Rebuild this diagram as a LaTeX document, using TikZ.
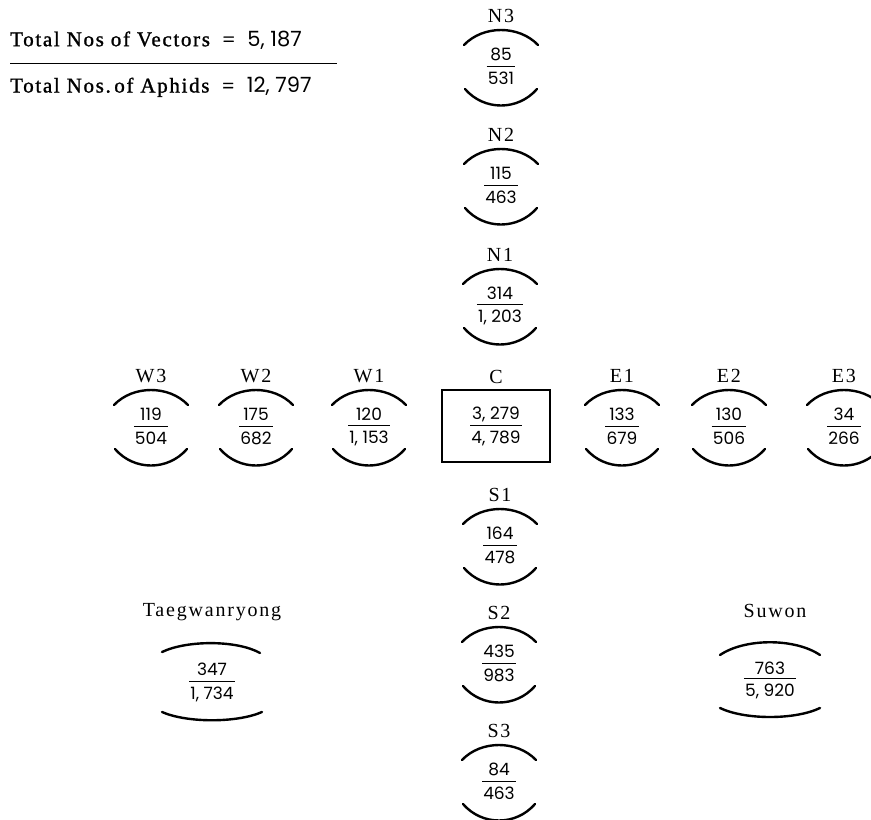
\documentclass[tikz,border=0pt]{standalone}
\usepackage{fontspec}
\setmainfont{Liberation Serif}
\newfontfamily\numfont{Poppins}
\newfontfamily\labfont[LetterSpace=9]{Liberation Serif}
\newfontfamily\hdrfont[LetterSpace=8,FakeBold=1.2]{Liberation Serif}
\usetikzlibrary{calc}
\tikzset{
  lab/.style={font=\labfont\fontsize{20}{22}\selectfont, inner sep=0pt},
  hdr/.style={font=\hdrfont\fontsize{21}{23}\selectfont, inner sep=0pt},
  frac/.style={font=\numfont\fontsize{17}{19}\selectfont, inner sep=0pt},
  arcline/.style={line width=2.4pt, line cap=round},
  bar/.style={line width=0.7pt},
}
\newcommand\site[6]{%
  \coordinate (#1c) at (#2,#3);
  \node[lab] (#1) at (#2,#3-50) {#4};
  \node[frac] (#1n) at (#2,#3-12) {#5};
  \node[frac] (#1d) at (#2,#3+12) {#6};
  \draw[bar] ($(#1d.north west)+(-1,-5)$) -- ($(#1d.north east)+(1,-5)$);
  \draw[arcline] ($(#1c)+(-37,-21)$) .. controls ($(#1c)+(-18,-41)$) and ($(#1c)+(18,-41)$) .. ($(#1c)+(37,-21)$);
  \draw[arcline] ($(#1c)+(-36,23)$) .. controls ($(#1c)+(-17,45)$) and ($(#1c)+(17,45)$) .. ($(#1c)+(36,23)$);
}
\begin{document}
\begin{tikzpicture}[x=1pt,y=-1pt]
\useasboundingbox (0,0) rectangle (871,820);
% header
\node[hdr, anchor=west] (vec) at (10,40) {Total Nos of Vectors \;=\; {\numfont 5, 187}};
\coordinate (r1) at (10,63);
\coordinate (r2) at (337,63);
\draw[line width=0.8pt] (r1) -- (r2);
\node[hdr, anchor=west] (aph) at (10,87) {Total Nos.\,of Aphids \;=\; {\numfont 12, 797}};
% north column
\site{N3}{501}{66}{N3}{85}{531}
\site{N2}{501}{185}{N2}{115}{463}
\site{N1}{500}{305}{N1}{314}{1, 203}
% row
\site{W3}{151}{426}{W3}{119}{504}
\site{W2}{256}{426}{W2}{175}{682}
\site{W1}{369}{426}{W1}{120}{1, 153}
\site{E1}{622}{426}{E1}{133}{679}
\site{E2}{729}{426}{E2}{130}{506}
\site{E3}{844}{426}{E3}{34}{266}
% centre
\node[draw, line width=2.4pt, minimum width=108pt, minimum height=72pt] (Cbox) at (496,426) {};
\node[lab] (C) at (496,377) {C};
\node[frac] (Cn) at (496,414) {3, 279};
\node[frac] (Cd) at (496,438) {4, 789};
\draw[bar] ($(Cd.north west)+(-1,-5)$) -- ($(Cd.north east)+(1,-5)$);
% south column
\site{S1}{500}{545}{S1}{164}{478}
\site{S2}{499}{663}{S2}{435}{983}
\site{S3}{499}{781}{S3}{84}{463}
% Taegwanryong
\coordinate (Tc) at (212,682);
\node[lab] (T) at (212,612) {Taegwanryong};
\node[frac] (Tn) at (212,669) {347};
\node[frac] (Td) at (212,694) {1, 734};
\draw[bar] ($(Td.north west)+(-1,-5)$) -- ($(Td.north east)+(1,-5)$);
\draw[arcline] ($(Tc)+(-50,-30)$) .. controls ($(Tc)+(-25,-42)$) and ($(Tc)+(25,-42)$) .. ($(Tc)+(48,-29)$);
\draw[arcline] ($(Tc)+(-50,30)$) .. controls ($(Tc)+(-25,41)$) and ($(Tc)+(25,41)$) .. ($(Tc)+(50,30)$);
% Suwon
\coordinate (Uc) at (770,680);
\node[lab] (U) at (775,611) {Suwon};
\node[frac] (Un) at (770,668) {763};
\node[frac] (Ud) at (770,691) {5, 920};
\draw[bar] ($(Ud.north west)+(-1,-5)$) -- ($(Ud.north east)+(1,-5)$);
\draw[arcline] ($(Uc)+(-50,-25)$) .. controls ($(Uc)+(-25,-42)$) and ($(Uc)+(25,-42)$) .. ($(Uc)+(50,-25)$);
\draw[arcline] ($(Uc)+(-50,28)$) .. controls ($(Uc)+(-25,40)$) and ($(Uc)+(25,40)$) .. ($(Uc)+(50,28)$);
\end{tikzpicture}
\end{document}
